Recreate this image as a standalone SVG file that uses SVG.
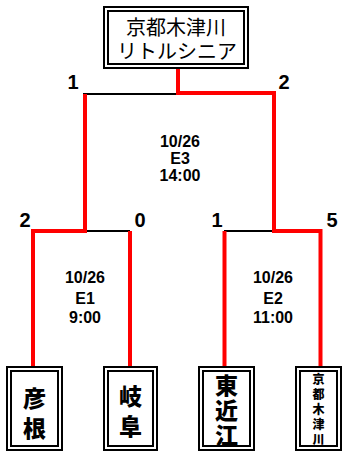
<svg xmlns="http://www.w3.org/2000/svg" width="344" height="452" viewBox="0 0 344 452">
<style>
.box{fill:#fff;stroke:#000;stroke-width:2}
.ib{fill:none;stroke:#000;stroke-width:2}
.bl{fill:none;stroke:#000;stroke-width:2}
.rd{fill:none;stroke:#f00;stroke-width:4;stroke-linejoin:miter}
.sc{font-family:"Liberation Sans",Arial,sans-serif;font-weight:bold;font-size:20px;text-anchor:middle;fill:#000}
.info{font-family:"Liberation Sans",Arial,sans-serif;font-weight:bold;font-size:16px;text-anchor:middle;fill:#000}
.tm{font-family:"Noto Sans CJK JP",sans-serif;font-weight:900;text-anchor:middle;fill:#000}
.top{font-family:"Noto Sans CJK JP",sans-serif;font-size:20px;text-anchor:middle;fill:#000}
</style>
<rect width="344" height="452" fill="#fff"/>
<g id="connectors">
<path class="bl" d="M83,94 H178"/>
<path class="bl" d="M85,231 H130"/>
<path class="bl" d="M224,231 H274"/>
<path class="rd" d="M178,68 V93 H274 V231 H320.5 V367"/>
<path class="rd" d="M85,94 V231 H33 V367"/>
<path class="rd" d="M130,231 V367"/>
<path class="rd" d="M224.5,231 V367"/>
</g>
<g id="champion">
<rect class="box" x="104" y="7" width="144" height="61"/>
<rect class="ib" x="108" y="11" width="136" height="53"/>
<text class="top" x="176" y="35">京都木津川</text>
<text class="top" x="177" y="59" font-size="18">リトルシニア</text>
</g>
<g id="scores">
<text class="sc" x="73" y="89">1</text>
<text class="sc" x="284" y="89">2</text>
<text class="sc" x="25" y="227">2</text>
<text class="sc" x="140" y="227">0</text>
<text class="sc" x="217" y="227">1</text>
<text class="sc" x="332" y="227">5</text>
</g>
<g id="game-e3">
<text class="info" x="180" y="147">10/26</text>
<text class="info" x="180" y="164">E3</text>
<text class="info" x="180" y="181">14:00</text>
</g>
<g id="game-e1">
<text class="info" x="85" y="283">10/26</text>
<text class="info" x="85" y="304">E1</text>
<text class="info" x="85" y="323">9:00</text>
</g>
<g id="game-e2">
<text class="info" x="273" y="283">10/26</text>
<text class="info" x="273" y="304">E2</text>
<text class="info" x="273" y="323">11:00</text>
</g>
<g id="team-hikone">
<rect class="box" x="7" y="367" width="55" height="83"/>
<rect class="ib" x="11" y="371" width="47" height="75"/>
<text class="tm" x="34.5" y="407" font-size="23">彦</text>
<text class="tm" x="34.5" y="437" font-size="23">根</text>
</g>
<g id="team-gifu">
<rect class="box" x="104" y="367" width="53" height="83"/>
<rect class="ib" x="108" y="371" width="45" height="75"/>
<text class="tm" x="130.5" y="405" font-size="23">岐</text>
<text class="tm" x="130.5" y="435" font-size="23">阜</text>
</g>
<g id="team-higashiomi">
<rect class="box" x="199" y="367" width="55" height="83"/>
<rect class="ib" x="203" y="371" width="47" height="75"/>
<text class="tm" x="226.5" y="394" font-size="23">東</text>
<text class="tm" x="226.5" y="419" font-size="23">近</text>
<text class="tm" x="226.5" y="444" font-size="23">江</text>
</g>
<g id="team-kyotokizugawa">
<rect class="box" x="296" y="367" width="45" height="83"/>
<rect class="ib" x="300" y="371" width="37" height="75"/>
<text class="tm" x="318.5" y="384" font-size="12">京</text>
<text class="tm" x="318.5" y="399" font-size="12">都</text>
<text class="tm" x="318.5" y="414" font-size="12">木</text>
<text class="tm" x="318.5" y="429" font-size="12">津</text>
<text class="tm" x="318.5" y="444" font-size="12">川</text>
</g>
</svg>
